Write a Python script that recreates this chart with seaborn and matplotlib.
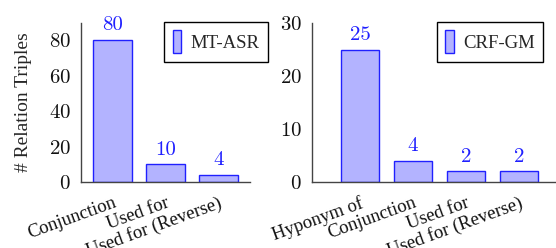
import matplotlib
matplotlib.use("Agg")
import matplotlib.pyplot as plt
import seaborn as sns

# data
mt_cats = ["Conjunction", "Used for", "Used for (Reverse)"]
mt_vals = [80, 10, 4]
crf_cats = ["Hyponym of", "Conjunction", "Used for", "Used for (Reverse)"]
crf_vals = [25, 4, 2, 2]
mt_yticks = [0, 20, 40, 60, 80]
crf_yticks = [0, 10, 20, 30]

fill = "#b3b3ff"
edge = "#2020ff"
txt_font = "Liberation Serif"
num_font = "cmr10"

sns.set_style("white")
plt.rcParams["font.family"] = [txt_font, "DejaVu Serif"]
plt.rcParams["axes.formatter.use_mathtext"] = True

fig = plt.figure(figsize=(5.56, 2.48), dpi=100)
ax1 = fig.add_axes([81 / 556, 66 / 248, 169 / 556, 159 / 248])
ax2 = fig.add_axes([312 / 556, 66 / 248, 244 / 556, 159 / 248])


def draw(ax, cats, vals, name, yticks, ylim, xlim, leg_x):
    sns.barplot(x=cats, y=vals, ax=ax, color=fill, edgecolor=edge,
                linewidth=1.0, saturation=1, width=0.72, label=name)
    ax.set_xlim(*xlim)
    ax.set_ylim(*ylim)
    ax.set_yticks(yticks)
    for s in ["top", "right"]:
        ax.spines[s].set_visible(False)
    for s in ["left", "bottom"]:
        ax.spines[s].set_color("#444444")
        ax.spines[s].set_linewidth(1.0)
    ax.tick_params(axis="y", direction="in", length=5, width=0.8,
                   color="#999999", labelsize=15, pad=7.5)
    ax.tick_params(axis="x", direction="out", length=7, width=0.8,
                   color="#999999", labelsize=13.5, pad=2)
    for t in ax.get_yticklabels():
        t.set_fontfamily(num_font)
        t.set_color("#111111")
    ax.set_xticks(range(len(cats)))
    ax.set_xticklabels(cats, rotation=20, ha="right", va="top",
                       rotation_mode="anchor", fontsize=13.5, color="#111111")
    labs = ax.bar_label(ax.containers[0], padding=4, color="#2020ff",
                        fontsize=15)
    for t in labs:
        t.set_fontfamily(num_font)
    leg = ax.legend(loc="upper right", bbox_to_anchor=(leg_x, 1.006),
                    borderaxespad=0, fontsize=13.5, handlelength=0.45,
                    handleheight=1.5, handletextpad=0.5, borderpad=0.45,
                    fancybox=False, edgecolor="black", framealpha=1)
    leg.get_frame().set_linewidth(1.0)
    ax.grid(False)


draw(ax1, mt_cats, mt_vals, "MT-ASR", mt_yticks, (0, 89.6), (-0.594, 2.594), 1.107)
draw(ax2, crf_cats, crf_vals, "CRF-GM", crf_yticks, (0, 30), (-0.906, 3.70), 0.947)

ax1.set_ylabel("# Relation Triples", fontsize=14)
ax1.yaxis.set_label_coords(-0.29, 0.5)

fig.savefig("out.png", dpi=100)
